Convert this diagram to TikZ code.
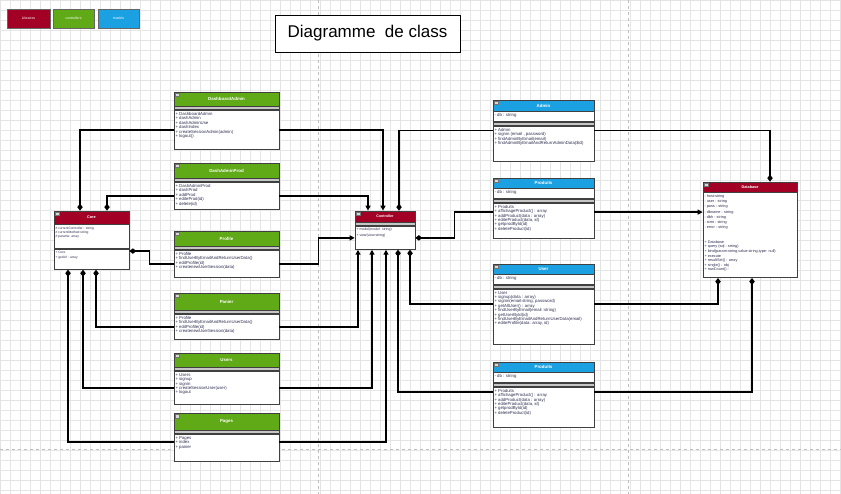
\documentclass[tikz,border=0pt]{standalone}
\usepackage{fontspec}
\setmainfont{Liberation Sans}
\usepackage{xcolor}
\usetikzlibrary{arrows.meta, positioning}
\definecolor{LibRed}{RGB}{162,0,37}
\definecolor{CtrlGreen}{RGB}{96,169,23}
\definecolor{ModBlue}{RGB}{27,161,226}
\definecolor{MemberInk}{RGB}{45,45,80}
\definecolor{GridGray}{RGB}{230,230,230}
\definecolor{PageLine}{RGB}{190,190,190}

% member list of a class compartment: width, height, lines
\newcommand{\members}[3]{\parbox[t][\dimexpr#2-4pt\relax][t]{\dimexpr#1-3pt\relax}{\raggedright #3}}

\begin{document}
\begin{tikzpicture}[x=1pt, y=-1pt,
    clshead/.style={draw=black!75, line width=0.7pt, text=white, inner sep=0pt,
                    font=\fontsize{4.4}{5}\selectfont\bfseries},
    libhead/.style={clshead, fill=LibRed},
    ctrlhead/.style={clshead, fill=CtrlGreen},
    modhead/.style={clshead, fill=ModBlue},
    gw/.style={minimum width=105pt},
    bw/.style={minimum width=101pt},
    band/.style={draw=black!75, line width=0.7pt, fill=gray!45, minimum height=3pt, inner sep=0pt},
    part/.style={draw=black!75, line width=0.7pt, fill=white, inner xsep=1.5pt, inner ysep=2pt,
                 text=MemberInk, font=\fontsize{4.3}{4.4}\selectfont},
    tog/.style={draw=black!55, fill=gray!30, line width=0.3pt},
    keybox/.style={draw=black!60, text=white, minimum height=19pt, inner sep=0pt,
                   font=\fontsize{3.5}{4}\selectfont},
    link/.style={line width=1.5pt, black},
    comp/.style={link, -{Diamond[length=7pt, width=5.5pt]}},
    arr/.style={link, -{Triangle[length=5pt, width=5pt]}},
]
\useasboundingbox (0,0) rectangle (841,494);
\fill[white] (0,0) rectangle (841,494);
\draw[GridGray, line width=0.3pt, step=10pt] (0,0) grid (841,494);
\draw[gray!22, line width=0.4pt, step=40pt] (0,0) grid (841,494);
\draw[PageLine, dashed, line width=0.7pt] (318,0) -- (318,494);
\draw[PageLine, dashed, line width=0.7pt] (628,0) -- (628,494);
\draw[PageLine, dashed, line width=0.7pt] (0,449) -- (841,449);

% legend
\node[keybox, fill=LibRed, minimum width=43pt] (libKey) at (28.5,18.5) {Libraries};
\node[keybox, fill=CtrlGreen, minimum width=41pt] (ctrlKey) at (73.5,18.5) {controllers};
\node[keybox, fill=ModBlue, minimum width=41pt] (modKey) at (118.5,18.5) {models};

\node[draw=black, line width=0.6pt, fill=white, minimum width=185pt, minimum height=37pt,
      font=\fontsize{17}{20}\selectfont] (title) at (367.5,33.5) {Diagramme~~de class};

% controllers
\node[ctrlhead, gw, minimum height=14pt] (dashH) at (226.5,99) {DashboardAdmin};
\node[band, gw, below=0pt of dashH] (dashS) {};
\node[part, below=0pt of dashS] (dashB) {\members{105pt}{39pt}{+ DashboardAdmin\\+ dashAdmin\\+ dashAdminUse\\+ dashIndex\\+ createSessionAdmin(admin)\\+ logout()}};

\node[ctrlhead, gw, minimum height=15pt] (prodcH) at (226.5,170.5) {DashAdminProd};
\node[band, gw, below=0pt of prodcH] (prodcS) {};
\node[part, below=0pt of prodcS] (prodcB) {\members{105pt}{27pt}{+ DashAdminProd\\+ dashProd\\+ addProd\\+ editeProd(id)\\+ delete(id)}};

\node[ctrlhead, gw, minimum height=15pt] (profH) at (226.5,238.5) {Profile};
\node[band, gw, below=0pt of profH] (profS) {};
\node[part, below=0pt of profS] (profB) {\members{105pt}{27pt}{+ Profile\\+ findUserByEmailAndReturnUserData()\\+ editProfile(id)\\+ createnewUserSession(data)}};

\node[ctrlhead, gw, minimum height=17pt] (panH) at (226.5,301.5) {Panier};
\node[band, gw, below=0pt of panH] (panS) {};
\node[part, below=0pt of panS] (panB) {\members{105pt}{25pt}{+ Profile\\+ findUserByEmailAndReturnUserData()\\+ editProfile(id)\\+ createnewUserSession(data)}};

\node[ctrlhead, gw, minimum height=14pt] (usrsH) at (226.5,360) {Users};
\node[band, gw, below=0pt of usrsH] (usrsS) {};
\node[part, below=0pt of usrsS] (usrsB) {\members{105pt}{33pt}{+ Users\\+ signup\\+ signin\\+ createSessionUser(user)\\+ logout}};

\node[ctrlhead, gw, minimum height=17pt] (pagH) at (226.5,421.5) {Pages};
\node[band, gw, below=0pt of pagH] (pagS) {};
\node[part, below=0pt of pagS] (pagB) {\members{105pt}{27pt}{+ Pages\\+ index\\+ panier}};

% libraries
\node[libhead, minimum width=75pt, minimum height=13pt, font=\fontsize{3.8}{4}\selectfont\bfseries] (coreH) at (91.5,217.5) {Core};
\node[part, below=0pt of coreH, font=\fontsize{3.3}{4.2}\selectfont] (coreA) {\members{75pt}{24pt}{\# currentController : string\\\# currentMethod:string\\\# params: array}};
\node[part, below=0pt of coreA, font=\fontsize{3.3}{4.3}\selectfont] (coreM) {\members{75pt}{20pt}{+ Core\\+ getUrl : array}};

\node[libhead, minimum width=60pt, minimum height=11pt, font=\fontsize{3.6}{4}\selectfont\bfseries] (ctrlH) at (385,216.5) {Controller};
\node[band, minimum width=60pt, below=0pt of ctrlH] (ctrlS) {};
\node[part, below=0pt of ctrlS, font=\fontsize{3.5}{5.2}\selectfont] (ctrlB) {\members{60pt}{23pt}{+ model(model: string)\\+ view(view:string)}};

\node[libhead, minimum width=94pt, minimum height=10pt, font=\fontsize{3.8}{4}\selectfont\bfseries] (dbH) at (750,187) {Database};
\node[part, below=0pt of dbH, font=\fontsize{3.8}{5.2}\selectfont] (dbB) {\members{94pt}{85pt}{- host:string\\- user : string\\- pass : string\\- dbname : string\\- dbh : string\\- stmt : string\\- error : string\\[10pt]\fontsize{3.8}{4.6}\selectfont
+ Database\\+ query (sql : string)\\+ bind(param:string,value:string,type: null)\\+ execute\\+ resultSet() : array\\+ single() : obj\\+ rowCount() :}};

% models
\node[modhead, bw, minimum height=11pt] (admH) at (543.5,105.5) {Admin};
\node[part, below=0pt of admH] (admA) {\members{101pt}{10pt}{- db : string}};
\node[band, bw, below=0pt of admA] (admS) {};
\node[part, below=0pt of admS] (admB) {\members{101pt}{35pt}{+ Admin\\+ signin (email , password)\\+ findAdminByEmail(email)\\+ findAdminByEmailAndReturnAdminData(\$id)}};

\node[modhead, bw, minimum height=10pt] (prdH) at (543.5,183) {Produits};
\node[part, below=0pt of prdH] (prdA) {\members{101pt}{10pt}{- db : string}};
\node[band, bw, below=0pt of prdA] (prdS) {};
\node[part, below=0pt of prdS] (prdB) {\members{101pt}{35pt}{+ Produits\\+ affichageProduct() : array\\+ addProduct(data : array)\\+ editeProduct(data, id)\\+ getprodById(id)\\+ deleteProduct(id)}};

\node[modhead, bw, minimum height=10pt] (userH) at (543.5,269) {User};
\node[part, below=0pt of userH] (userA) {\members{101pt}{10pt}{- db : string}};
\node[band, bw, below=0pt of userA] (userS) {};
\node[part, below=0pt of userS] (userB) {\members{101pt}{55pt}{+ User\\+ signup(data : array)\\+ signin(email:string, password)\\+ getAllUser() : array\\+ findUserByEmail(email :string)\\+ getUserById(id)\\+ findUserByEmailAndReturnUserData(email)\\+ editeProfile(data: array, id)}};

\node[modhead, bw, minimum height=10pt] (prd2H) at (543.5,367) {Produits};
\node[part, below=0pt of prd2H] (prd2A) {\members{101pt}{10pt}{- db : string}};
\node[band, bw, below=0pt of prd2A] (prd2S) {};
\node[part, below=0pt of prd2S] (prd2B) {\members{101pt}{40pt}{+ Produits\\+ affichageProduct() : array\\+ addProduct(data : array)\\+ editeProduct(data, id)\\+ getprodById(id)\\+ deleteProduct(id)}};

\foreach \h in {dashH,prodcH,profH,panH,usrsH,pagH,coreH,ctrlH,dbH,admH,prdH,userH,prd2H}
  \draw[tog] ([xshift=1.5pt,yshift=-1.5pt]\h.north west) rectangle ++(3.5,3.5);

% links to Core
\draw[comp] (dashB.west) -| ([xshift=-11.5pt]coreH.north);
\draw[comp] (prodcB.west) -| ([xshift=15.5pt]coreH.north);
\draw[comp] (profB.west) -- ++(-24,0) |- ([yshift=-2pt]coreM.north east);
\draw[comp] (panB.west) -| ([xshift=4.5pt]coreM.south);
\draw[comp] (usrsB.west) -| ([xshift=-8.5pt]coreM.south);
\draw[comp] ([yshift=6pt]pagB.west) -| ([xshift=-23.5pt]coreM.south);

% links to Controller
\draw[arr] (dashB.east) -| ([xshift=-2pt]ctrlH.north);
\draw[arr] (prodcB.east) -| ([xshift=-17pt]ctrlH.north);
\draw[comp] ([yshift=13pt]admB.west) -| ([xshift=14pt]ctrlH.north);
\draw[comp] ([yshift=8.5pt]prdB.west) -- ++(-38,0) |- (ctrlB.east);
\draw[arr] (profB.east) -- ++(39,0) |- (ctrlB.west);
\draw[arr] (panB.east) -| ([xshift=-27pt]ctrlB.south);
\draw[arr] (usrsB.east) -| ([xshift=-13pt]ctrlB.south);
\draw[arr] ([yshift=6pt]pagB.east) -| ([xshift=1pt]ctrlB.south);
\draw[comp] ([yshift=12.5pt]userB.west) -| ([xshift=25pt]ctrlB.south);
\draw[comp] ([yshift=15pt]prd2B.west) -| ([xshift=13pt]ctrlB.south);

% links to Database
\draw[comp] ([yshift=13pt]admB.east) -| ([xshift=20pt]dbH.north);
\coordinate (prdOut) at ([yshift=8.5pt]prdB.east);
\draw[arr] (prdOut) -- (prdOut -| dbB.west);
\draw[comp] ([yshift=12.5pt]userB.east) -| ([xshift=-32pt]dbB.south);
\draw[comp] ([yshift=15pt]prd2B.east) -| ([xshift=2pt]dbB.south);
\end{tikzpicture}
\end{document}
